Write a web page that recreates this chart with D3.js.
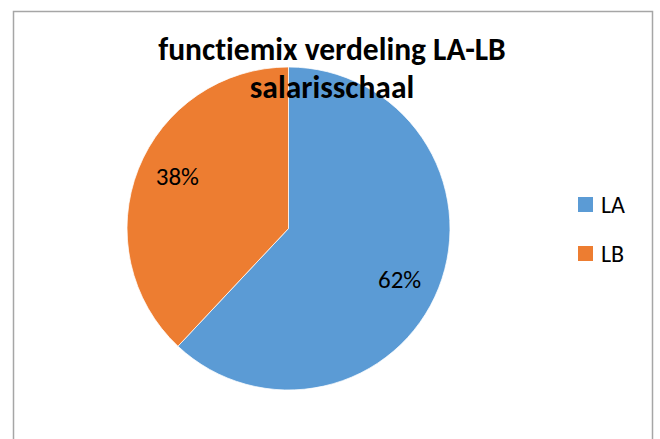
<!DOCTYPE html>
<html>
<head>
<meta charset="utf-8">
<script src="https://cdn.jsdelivr.net/npm/d3@7"></script>
<style>
  body { margin: 0; background: #fff; }
  text { font-family: Carlito, "Open Sans", "Liberation Sans", sans-serif; font-variant-ligatures: none; }
</style>
</head>
<body>
<svg id="chart"></svg>
<script>
var categories = ["LA", "LB"];
var values = [62, 38];
var colors = ["#5B9BD5", "#ED7D31"];
var titleLines = ["functiemix verdeling LA-LB", "salarisschaal"];

var width = 660,
    height = 439;

var svg = d3.select("#chart")
    .attr("width", width)
    .attr("height", height);

// chart area border (bottom runs off the picture)
svg.append("rect")
    .attr("x", 13.5)
    .attr("y", 11.5)
    .attr("width", 639)
    .attr("height", 460)
    .attr("fill", "#fff")
    .attr("stroke", "#a6a6a6")
    .attr("stroke-width", 1.5);

var cx = 288.5, cy = 228.5, radius = 161.5;

var pie = d3.pie().sort(null).value(function (d) { return d; });
var arc = d3.arc().innerRadius(0).outerRadius(radius);
var labelArc = d3.arc().innerRadius(radius * 0.74).outerRadius(radius * 0.74);

var g = svg.append("g")
    .attr("transform", "translate(" + cx + "," + cy + ")");

var slices = pie(values);

g.selectAll("path")
    .data(slices)
    .enter().append("path")
    .attr("d", arc)
    .attr("fill", function (d, i) { return colors[i]; })
    .attr("stroke", "#fff")
    .attr("stroke-width", 0.75);

var total = d3.sum(values);
g.selectAll("text.lbl")
    .data(slices)
    .enter().append("text")
    .attr("class", "lbl")
    .attr("transform", function (d) {
        var c = labelArc.centroid(d);
        // labels sit a little further up/down than the plain centroid
        return "translate(" + c[0] + "," + (c[1] * 1.18 + 8) + ")";
    })
    .attr("text-anchor", "middle")
    .attr("font-size", 25)
    .attr("fill", "#000")
    .text(function (d) { return Math.round(d.value / total * 100) + "%"; });

// title
svg.selectAll("text.title")
    .data(titleLines)
    .enter().append("text")
    .attr("class", "title")
    .attr("x", 332)
    .attr("y", function (d, i) { return 60 + i * 38; })
    .attr("text-anchor", "middle")
    .attr("font-size", 31.5)
    .attr("font-weight", "bold")
    .attr("fill", "#000")
    .text(function (d) { return d; });

// legend
var legend = svg.selectAll("g.legend")
    .data(categories)
    .enter().append("g")
    .attr("class", "legend")
    .attr("transform", function (d, i) { return "translate(578," + (197 + i * 49) + ")"; });

legend.append("rect")
    .attr("width", 15)
    .attr("height", 15)
    .attr("fill", function (d, i) { return colors[i]; });

legend.append("text")
    .attr("x", 23)
    .attr("y", 16)
    .attr("font-size", 24)
    .attr("fill", "#000")
    .text(function (d) { return d; });
</script>
</body>
</html>
